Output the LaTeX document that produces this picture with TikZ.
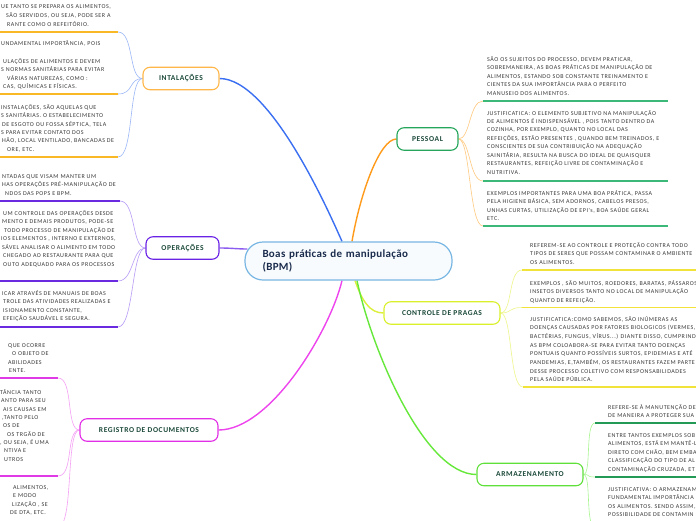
\documentclass[tikz,border=0pt]{standalone}
\usepackage{fontspec}
\setmainfont{Carlito}
\newfontfamily\leaffont[LetterSpace=9]{Carlito}
\newfontfamily\topicfont[LetterSpace=8]{Carlito}
\newfontfamily\centerfont[LetterSpace=3]{Carlito}
\usetikzlibrary{backgrounds}
\definecolor{leafgray}{HTML}{3A3A3A}
\definecolor{topictext}{HTML}{1C4A3A}
\definecolor{centertext}{HTML}{1A2B4C}
\definecolor{centerborder}{HTML}{78B6E3}
\definecolor{centerfill}{HTML}{F7FBFE}
\definecolor{blueBr}{HTML}{3B6FF2}
\definecolor{blueLt}{HTML}{9CB8F7}
\definecolor{instBd}{HTML}{FFB74A}
\definecolor{instUl}{HTML}{F9B825}
\definecolor{pessBd}{HTML}{26A65B}
\definecolor{pessUl}{HTML}{3CB878}
\definecolor{orangeBr}{HTML}{FF9A1A}
\definecolor{orangeLt}{HTML}{FFCA80}
\definecolor{opsBd}{HTML}{6A22E6}
\definecolor{opsUl}{HTML}{6A2AE0}
\definecolor{purpleBr}{HTML}{8C5CF0}
\definecolor{purpleLt}{HTML}{B89CF7}
\definecolor{pragBd}{HTML}{D9F02A}
\definecolor{pragUl}{HTML}{F2E33A}
\definecolor{limeBr}{HTML}{DCEF3A}
\definecolor{limeLt}{HTML}{EEF58A}
\definecolor{regBd}{HTML}{E22EE6}
\definecolor{regUl}{HTML}{E03AE6}
\definecolor{magBr}{HTML}{EE44EE}
\definecolor{magLt}{HTML}{F5A0F5}
\definecolor{armBd}{HTML}{5FE03A}
\definecolor{armUl}{HTML}{239A55}
\definecolor{greenBr}{HTML}{66E83A}
\definecolor{greenLt}{HTML}{A8F590}
\newcommand\threedots{...}
\newcommand\lline[4]{\node[leaf] (#1) at (#2,#3+2) {#4};}
\newcommand\tblock[5]{\foreach \t [count=\i from 0] in {#5} {\node[leaf] (#1-\i) at (#2,#3+2+\i*#4) {\t};}}
\tikzset{
 leaf/.style={font=\leaffont\fontsize{6}{7}\selectfont, text=leafgray, inner sep=0pt, anchor=base west},
 topic/.style={draw, rounded corners=7pt, line width=1.1pt, fill=white, minimum height=22.5pt, inner sep=0pt, font=\topicfont\bfseries\fontsize{7.5}{9}\selectfont, text=topictext},
 conn/.style={line width=0.6pt},
 branch/.style={line width=1.4pt},
 ul/.style={line width=1.4pt},
}
\begin{document}
\begin{tikzpicture}[x=1pt,y=-1pt]
\clip (0,0) rectangle (696,520);

% central and topic nodes
\node[draw=centerborder, fill=centerfill, line width=1.2pt, rounded corners=18pt, minimum width=207pt, minimum height=38pt, inner sep=0pt, text width=172pt, align=left, text=centertext, font=\centerfont\bfseries\fontsize{11}{13}\selectfont] (c) at (348.5,261) {Boas práticas de manipulação\\(BPM)};
\node[topic, draw=instBd, minimum width=76pt] (inst) at (181,78.5) {INTALAÇÕES};
\node[topic, draw=pessBd, minimum width=61pt] (pess) at (427.5,139) {PESSOAL};
\node[topic, draw=opsBd, minimum width=73pt] (ops) at (182.5,248) {OPERAÇÕES};
\node[topic, draw=pragBd, minimum width=116pt] (prag) at (442,313) {CONTROLE DE PRAGAS};
\node[topic, draw=regBd, minimum width=138pt] (reg) at (149,430) {REGISTRO DE DOCUMENTOS};
\node[topic, draw=armBd, minimum width=106pt] (arm) at (530,474.5) {ARMAZENAMENTO};

% underline end coordinates
\coordinate (i1) at (118,32);  \coordinate (i2) at (118,94);  \coordinate (i3) at (118,157);
\coordinate (o1) at (120,201); \coordinate (o2) at (118,281); \coordinate (o3) at (118,327);
\coordinate (r1) at (58,378);  \coordinate (r2) at (58,476);  \coordinate (r3) at (58,527);
\coordinate (p1) at (483,101); \coordinate (p2) at (483,181); \coordinate (p3) at (483,226);
\coordinate (k1) at (522,270); \coordinate (k2) at (522,307.5); \coordinate (k3) at (523,387);
\coordinate (a1) at (595,423); \coordinate (a2) at (595,477); \coordinate (a3) at (595,527);
\coordinate (i1s) at (-2,32); \coordinate (i2s) at (-2,94); \coordinate (i3s) at (-2,157);
\coordinate (o1s) at (-2,201); \coordinate (o2s) at (-2,281); \coordinate (o3s) at (-2,327);
\coordinate (r1s) at (-2,378); \coordinate (r2s) at (-2,476);
\coordinate (p1e) at (668,101); \coordinate (p2e) at (668,181); \coordinate (p3e) at (668,226);
\coordinate (k1e) at (700,270); \coordinate (k2e) at (700,307.5); \coordinate (k3e) at (700,387);
\coordinate (a1e) at (700,423); \coordinate (a2e) at (700,477);

\begin{scope}[on background layer]
\fill[white] (0,0) rectangle (696,520);
% main branches
\draw[branch, blueBr] ([xshift=-6.5pt]c.north) .. controls +(-12,-27) and +(51,0) .. (inst.east);
\draw[branch, orangeBr] ([xshift=3.5pt]c.north) .. controls +(8,-47) and +(-17,0) .. (pess.west);
\draw[branch, purpleBr] (ops.east) .. controls +(12,0) and +(-10,0) .. ([xshift=3pt,yshift=12pt]c.west);
\draw[branch, limeBr] ([xshift=6.5pt]c.south) .. controls +(7,20) and +(-14,0) .. (prag.west);
\draw[branch, greenBr] ([xshift=8.5pt]c.south) .. controls +(15,70) and +(-52,0) .. (arm.west);
\draw[branch, magBr] ([xshift=-6.5pt]c.south) .. controls +(-12,50) and +(52,0) .. (reg.east);
% child connectors
\foreach \e in {i1,i2,i3} \draw[conn, blueLt] (inst.west) .. controls +(-14,0) and +(16,0) .. (\e);
\foreach \e in {o1,o2,o3} \draw[conn, purpleLt] (ops.west) .. controls +(-14,0) and +(16,0) .. (\e);
\foreach \e in {r1,r2,r3} \draw[conn, magLt] (reg.west) .. controls +(-14,0) and +(16,0) .. (\e);
\foreach \e in {p1,p2,p3} \draw[conn, orangeLt] (pess.east) .. controls +(12,0) and +(-14,0) .. (\e);
\foreach \e in {k1,k2,k3} \draw[conn, limeLt] (prag.east) .. controls +(12,0) and +(-14,0) .. (\e);
\foreach \e in {a1,a2,a3} \draw[conn, greenLt] (arm.east) .. controls +(8,0) and +(-10,0) .. (\e);
\end{scope}

% underlines
\draw[ul, instUl] (i1s) -- (i1); \draw[ul, instUl] (i2s) -- (i2); \draw[ul, instUl] (i3s) -- (i3);
\draw[ul, opsUl] (o1s) -- (o1); \draw[ul, opsUl] (o2s) -- (o2); \draw[ul, opsUl] (o3s) -- (o3);
\draw[ul, regUl] (r1s) -- (r1); \draw[ul, regUl] (r2s) -- (r2);
\draw[ul, pessUl] (p1) -- (p1e); \draw[ul, pessUl] (p2) -- (p2e); \draw[ul, pessUl] (p3) -- (p3e);
\draw[ul, pragUl] (k1) -- (k1e); \draw[ul, pragUl] (k2) -- (k2e); \draw[ul, pragUl] (k3) -- (k3e);
\draw[ul, armUl] (a1) -- (a1e); \draw[ul, armUl] (a2) -- (a2e);

% INTALAÇÕES texts
\lline{ia1}{1}{6}{UE TANTO SE PREPARA OS ALIMENTOS,}
\lline{ia2}{6}{15.5}{SÃO SERVIDOS, OU SEJA, PODE SER A}
\lline{ia3}{7}{24}{RANTE COMO O REFEITÓRIO.}
\lline{ib1}{1}{43}{UNDAMENTAL IMPORTÂNCIA, POIS}
\lline{ib2}{3}{61}{ULAÇÕES DE ALIMENTOS E DEVEM}
\lline{ib3}{1}{69.5}{S NORMAS SANITÁRIAS PARA EVITAR}
\lline{ib4}{7}{78}{VÁRIAS NATUREZAS, COMO :}
\lline{ib5}{3}{86.5}{CAS, QUÍMICAS E FÍSICAS.}
\lline{ic1}{1}{107}{INSTALAÇÕES, SÃO AQUELAS QUE}
\lline{ic2}{1}{115.5}{S SANITÁRIAS. O ESTABELECIMENTO}
\lline{ic3}{2}{124}{DE ESGOTO OU FOSSA SÉPTICA, TELA}
\lline{ic4}{1}{132}{S PARA EVITAR CONTATO DOS}
\lline{ic5}{2}{140.5}{HÃO, LOCAL VENTILADO, BANCADAS DE}
\lline{ic6}{7}{149}{ORE, ETC.}
% OPERAÇÕES texts
\lline{oa1}{2}{176}{NTADAS QUE VISAM MANTER UM}
\lline{oa2}{2}{184.5}{HAS OPERAÇÕES PRÉ-MANIPULAÇÃO DE}
\lline{oa3}{5}{193}{NDOS DAS POPS E BPM.}
\lline{ob1}{3}{213}{UM CONTROLE DAS OPERAÇÕES DESDE}
\lline{ob2}{2}{221.5}{MENTO E DEMAIS PRODUTOS, PODE-SE}
\lline{ob3}{4}{230}{TODO PROCESSO DE MANIPULAÇÃO DE}
\lline{ob4}{1}{238.5}{IOS ELEMENTOS , INTERNO E EXTERNOS,}
\lline{ob5}{2}{247}{SÁVEL ANALISAR O ALIMENTO EM TODO}
\lline{ob6}{3}{255.5}{CHEGADO AO RESTAURANTE PARA QUE}
\lline{ob7}{3}{264}{OUTO ADEQUADO PARA OS PROCESSOS}
\lline{oc1}{2}{293}{ICAR ATRAVÉS DE MANUAIS DE BOAS}
\lline{oc2}{3}{301.5}{TROLE DAS ATIVIDADES REALIZADAS E}
\lline{oc3}{3}{310}{ISIONAMENTO CONSTANTE,}
\lline{oc4}{3}{318.5}{EFEIÇÃO SAUDÁVEL E SEGURA.}
% REGISTRO texts
\lline{ra1}{8}{345}{QUE OCORRE}
\lline{ra2}{12}{353.5}{O OBJETO DE}
\lline{ra3}{8}{362}{ABILIDADES}
\lline{ra4}{9}{370.5}{ENTE.}
\lline{rb1}{0}{392}{TÂNCIA TANTO}
\lline{rb2}{1}{400.5}{ANTO PARA SEU}
\lline{rb3}{3}{409}{AIS CAUSAS EM}
\lline{rb4}{2}{417}{,TANTO PELO}
\lline{rb5}{3}{425.5}{OS DE}
\lline{rb6}{7}{434}{OS TRGÃO DE}
\lline{rb7}{0}{442}{, OU SEJA, É UMA}
\lline{rb8}{4}{450.5}{NTIVA E}
\lline{rb9}{4}{459}{UTROS}
\lline{rc1}{13}{487}{ALIMENTOS,}
\lline{rc2}{13}{495.5}{E MODO}
\lline{rc3}{12}{504}{LIZAÇÃO , SE}
\lline{rc4}{10}{512.5}{DE DTA, ETC.}
% PESSOAL texts
\tblock{pa}{487}{59}{8.5}{{SÃO OS SUJEITOS DO PROCESSO,  DEVEM PRATICAR,},{SOBREMANEIRA, AS BOAS PRÁTICAS DE MANIPULAÇÃO DE},{ALIMENTOS,  ESTANDO SOB CONSTANTE TREINAMENTO E},{CIENTES DA SUA IMPORTÂNCIA PARA O  PERFEITO},{MANUSEIO DOS ALIMENTOS.}}
\tblock{pb}{487}{113}{8.43}{{JUSTIFICATICA: O ELEMENTO SUBJETIVO NA MANIPULAÇÃO},{DE ALIMENTOS É  INDISPENSÁVEL , POIS TANTO DENTRO DA},{COZINHA, POR EXEMPLO, QUANTO NO LOCAL DAS},{REFEIÇÕES, ESTÃO PRESENTES , QUANDO BEM TREINADOS, E},{CONSCIENTES DE SUA CONTRIBUIÇÃO NA ADEQUAÇÃO},{SAINITÁRIA, RESULTA NA BUSCA DO IDEAL DE QUAISQUER},{RESTAURANTES, REFEIÇÃO LIVRE DE CONTAMINAÇÃO E},{NUTRITIVA.}}
\tblock{pc}{487}{193}{8.5}{{EXEMPLOS IMPORTANTES PARA UMA BOA PRÁTICA, PASSA},{PELA HIGIENE BÁSICA, SEM ADORNOS, CABELOS PRESOS,},{UNHAS CURTAS, UTILIZAÇÃO DE EPI's, BOA SAÚDE GERAL},{ETC.}}
% CONTROLE DE PRAGAS texts
\tblock{ka}{530}{245}{8.6}{{REFEREM-SE  AO CONTROLE E PROTEÇÃO CONTRA  TODO},{TIPOS DE SERES QUE POSSAM CONTAMINAR O AMBIENTE},{OS ALIMENTOS.}}
\tblock{kb}{530}{283}{8.5}{{EXEMPLOS , SÃO MUITOS, ROEDORES, BARATAS, PÁSSAROS},{INSETOS DIVERSOS TANTO NO LOCAL DE MANIPULAÇÃO},{QUANTO DE REFEIÇÃO.}}
\tblock{kc}{530}{319}{8.7}{{JUSTIFICATICA:COMO SABEMOS, SÃO INÚMERAS AS},{DOENÇAS CAUSADAS POR FATORES BIOLOGICOS (VERMES,},{BACTÉRIAS, FUNGUS, VÍRUS\threedots) DIANTE DISSO, CUMPRINDO},{AS  BPM COLOABORA-SE PARA EVITAR TANTO DOENÇAS},{PONTUAIS QUANTO POSSÍVEIS SURTOS, EPIDEMIAS E  ATÉ},{PANDEMIAS, E,TAMBÉM, OS RESTAURANTES  FAZEM PARTE},{DESSE PROCESSO  COLETIVO COM  RESPONSABILIDADES},{PELA SAÚDE PÚBLICA.}}
% ARMAZENAMENTO texts
\tblock{aa}{608}{407}{8}{{REFERE-SE À MANUTENÇÃO DE},{DE MANEIRA A PROTEGER SUA}}
\tblock{ab}{608}{435}{8.5}{{ENTRE TANTOS EXEMPLOS SOB},{ALIMENTOS, ESTÁ EM MANTÊ-L},{DIRETO COM CHÃO, BEM EMBA},{CLASSIFICAÇÃO DO TIPO DE AL},{CONTAMINAÇÃO CRUZADA, ET}}
\tblock{ac}{608}{489}{8.5}{{JUSTIFICATIVA: O ARMAZENAM},{FUNDAMENTAL IMPORTÂNCIA},{OS ALIMENTOS. SENDO ASSIM,},{POSSIBILIDADE  DE CONTAMIN}}
\end{tikzpicture}
\end{document}
